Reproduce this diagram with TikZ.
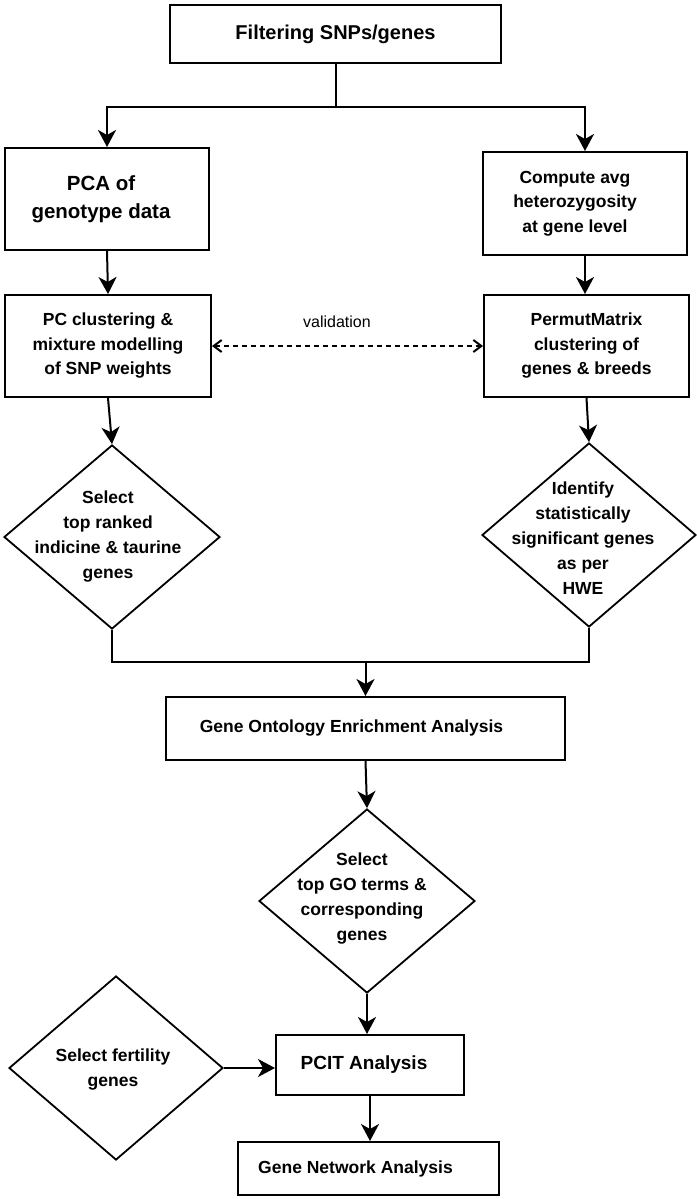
\documentclass[tikz,border=0pt]{standalone}
\usepackage{fontspec}
\setmainfont{Liberation Sans}
\usetikzlibrary{arrows.meta,shapes.geometric}
\tikzset{
  box/.style={draw,line width=2pt,rectangle,inner sep=0pt,font=\fontsize{17.5}{24.5}\selectfont\bfseries,align=center},
  dia/.style={draw,line width=1.8pt,diamond,inner sep=0pt,aspect=1},
  dtxt/.style={font=\fontsize{17.5}{25}\selectfont\bfseries,align=center,inner sep=0pt},
  conn/.style={line width=2pt,-{Stealth[length=17pt,width=18pt,inset=5pt]}},
  plain/.style={line width=2pt},
  valid/.style={line width=2pt,dash pattern=on 5pt off 4pt,{Straight Barb[length=8pt,width=12pt,line width=2pt]}-{Straight Barb[length=8pt,width=12pt,line width=2pt]}},
}
\begin{document}
\begin{tikzpicture}[x=1pt,y=-1pt]
\useasboundingbox (0,0) rectangle (696,1199);
% boxes
\node[box,minimum width=331pt,minimum height=58pt,font=\fontsize{20}{24}\selectfont\bfseries] (filter) at (335.5,34) {Filtering SNPs/genes};
\node[box,minimum width=204pt,minimum height=102pt,font=\fontsize{20.5}{28}\selectfont\bfseries] (pca) at (107,199) {\kern-12pt PCA of\\\kern-12pt genotype data};
\node[box,minimum width=204pt,minimum height=103pt] (avg) at (585,203.5) {\kern-20pt Compute avg\\\kern-20pt heterozygosity\\\kern-20pt at gene level};
\node[box,minimum width=206pt,minimum height=102pt] (pcc) at (108,346) {PC clustering \&\\mixture modelling\\of SNP weights};
\node[box,minimum width=205pt,minimum height=102pt] (perm) at (586.5,346) {PermutMatrix\\clustering of\\genes \& breeds};
% diamonds
\node[dia,minimum width=216pt,minimum height=184pt] (sel) at (112,537) {};
\node[dtxt] (selt) at (108,537) {Select\\top ranked\\indicine \& taurine\\genes};
\node[dia,minimum width=214pt,minimum height=184pt] (hwe) at (589,535) {};
\node[dtxt] (hwet) at (583,538) {Identify\\statistically\\significant genes\\as per\\HWE};
\node[box,minimum width=399pt,minimum height=63pt] (go) at (365.5,728.5) {\kern-28pt Gene Ontology Enrichment Analysis};
\node[dia,minimum width=216pt,minimum height=184pt] (gosel) at (367,901) {};
\node[dtxt] (goselt) at (362,899) {Select\\top GO terms \&\\corresponding\\genes};
\node[box,minimum width=188pt,minimum height=60pt,font=\fontsize{19}{24}\selectfont\bfseries] (pcit) at (370,1065) {\kern-12pt PCIT Analysis};
\node[dia,minimum width=214pt,minimum height=184pt] (fert) at (116,1068) {};
\node[dtxt] (fertt) at (113,1070) {Select fertility\\genes};
\node[box,minimum width=261pt,minimum height=53pt] (gna) at (368.5,1168.5) {\kern-26pt Gene Network Analysis};
% split from top
\coordinate (split) at (filter.south |- 0,107);
\draw[plain] (filter.south) -- (split);
\draw[conn] (split) -| (pca.north);
\draw[conn] (split) -| (avg.north);
\draw[conn] (pca.south) -- (pcc.north);
\draw[conn] (avg.south) -- (perm.north -| avg.south);
\draw[valid] (pcc.east) -- (perm.west);
\node[font=\fontsize{16}{18}\selectfont,inner sep=0pt] (vlab) at (337,322) {validation};
\draw[conn] (pcc.south) -- (sel.north);
\draw[conn] (perm.south) -- (hwe.north);
% merge
\coordinate (ml) at (sel.south |- 0,662);
\coordinate (mr) at (hwe.south |- 0,662);
\coordinate (mm) at (go.north |- 0,662);
\draw[plain] (sel.south) -- (ml) -- (mr) -- (hwe.south);
\draw[conn] (mm) -- (go.north);
\draw[conn] (go.south) -- (gosel.north);
\draw[conn] (gosel.south) -- (pcit.north -| gosel.south);
\draw[conn] (fert.east) -- (pcit.west |- fert.east);
\draw[conn] (pcit.south) -- (gna.north -| pcit.south);
\end{tikzpicture}
\end{document}
